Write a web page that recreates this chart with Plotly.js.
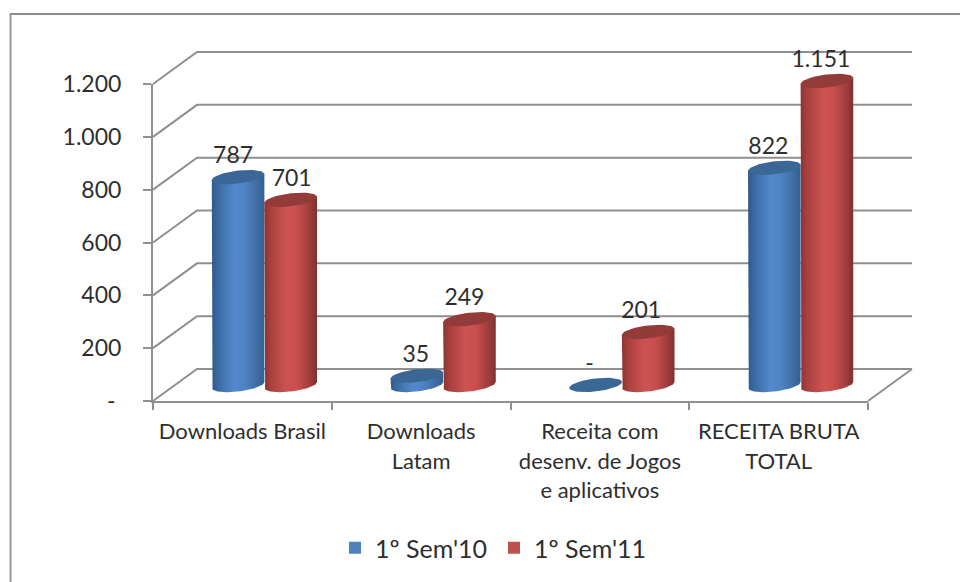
<!DOCTYPE html>
<html><head><meta charset="utf-8">
<script src="https://cdn.plot.ly/plotly-3.0.1.min.js"></script>
<style>html,body{margin:0;padding:0;background:#fff}#c{width:960px;height:582px}</style>
</head><body><div id="c"></div>
<script>
const categories = ["Downloads Brasil","Downloads<br>Latam","Receita com<br>desenv. de Jogos<br>e aplicativos","RECEITA BRUTA<br>TOTAL"];
const seriesNames = ["1º Sem'10","1º Sem'11"];
const sem10 = [787,35,0,822];
const sem11 = [701,249,201,1151];
const yTicks = [0,200,400,600,800,1000,1200];
const yTickLabels = ["-\u00a0","200","400","600","800","1.000","1.200"];

// geometry, in pixels of the page
const W=960,H=582,L=153,R=868,T=84,B=401;
const pxX=4/(R-L), pxY=1200/(B-T);
const depthX=44*pxX, depthY=32*pxY;
const halfW=26.3, ellB=6.5, ellTilt=3;
const grid='#8f8f8f', ink='#2e2e2e';
const looks=[
 {flat:'#4f81bd',cap:'#3b6796',scale:[[0,'#2f5a8a'],[0.12,'#3a6aa3'],[0.42,'#5289cc'],[0.62,'#4f84c4'],[0.88,'#3d6ba3'],[1,'#32608f']]},
 {flat:'#c0504d',cap:'#933b39',scale:[[0,'#8a3533'],[0.12,'#a8403e'],[0.42,'#cc5352'],[0.62,'#c94f4e'],[0.88,'#9c3c3a'],[1,'#7d312f']]}
];
const labelNudge=[[-5,1],[-1,-5],[-6,-7],[-6,-6]];

function fmtGroup(v){return v===0?'-':String(v).replace(/\B(?=(\d{3})+$)/g,'.');}

// every mark lives on the hidden page-wide axes x2/y2, which share the front plane's scale
const on={xaxis:'x2',yaxis:'y2',showlegend:false,hoverinfo:'skip'};
const traces=[];
// keeps the visible front-plane axes x/y on the page
traces.push({type:'scatter',mode:'markers',x:[0],y:[0],marker:{opacity:0,size:1},showlegend:false,hoverinfo:'skip'});
const gx=[],gy=[];
yTicks.forEach(v=>{gx.push(0,depthX,4+depthX,null);gy.push(v,v+depthY,v+depthY,null);});
gx.push(4,4+depthX);gy.push(0,depthY);
traces.push(Object.assign({type:'scatter',mode:'lines',x:gx,y:gy,line:{color:grid,width:2}},on));

function centre(k,s){return k+0.5+depthX/2+(s===0?-1:1)*26.3*pxX;}
function arc(cx,vy,a0,a1,n){
  const xs=[],ys=[];
  for(let i=0;i<=n;i++){
    const t=a0+(a1-a0)*i/n;
    xs.push(cx+halfW*pxX*Math.cos(t));
    ys.push(vy+(ellTilt*Math.cos(t)-ellB*Math.sin(t))*pxY);
  }
  return [xs,ys];
}
[sem10,sem11].forEach((vals,s)=>{
  const cs=vals.map((_,k)=>centre(k,s));
  traces.push(Object.assign({type:'bar',x:cs,y:vals,base:depthY/2,width:halfW*1.3*pxX,
    marker:{color:looks[s].flat,line:{width:0}}},on,{name:seriesNames[s],showlegend:true}));
});
[0,1,2,3].forEach(k=>{
 [sem10,sem11].forEach((vals,s)=>{
  const cx=centre(k,s), v=vals[k], lo=depthY/2, hi=v+depthY/2;
  if(v>0){
    const bot=arc(cx,lo,Math.PI,0,40);
    const xs=[cx-halfW*pxX].concat(bot[0],[cx+halfW*pxX]);
    const ys=[hi-ellTilt*pxY].concat(bot[1],[hi+ellTilt*pxY]);
    traces.push(Object.assign({type:'scatter',mode:'lines',x:xs,y:ys,fill:'toself',line:{width:0,color:'rgba(0,0,0,0)'},
      fillgradient:{type:'horizontal',colorscale:looks[s].scale,start:cx-halfW*pxX,stop:cx+halfW*pxX}},on));
  }
  const cap=arc(cx,hi,0,2*Math.PI,60);
  traces.push(Object.assign({type:'scatter',mode:'lines',x:cap[0],y:cap[1],fill:'toself',fillcolor:looks[s].cap,
    line:{width:0,color:'rgba(0,0,0,0)'}},on));
 });
});
[sem10,sem11].forEach((vals,s)=>{
  traces.push(Object.assign({type:'scatter',mode:'text',
    x:vals.map((_,k)=>centre(k,s)+labelNudge[k][s]*pxX),
    y:vals.map(v=>v+depthY/2+20*pxY),
    text:vals.map(fmtGroup),textposition:'middle center',
    textfont:{family:'Lato',size:23,color:ink}},on));
});

const layout={
  width:W,height:H,paper_bgcolor:'#fff',plot_bgcolor:'rgba(0,0,0,0)',showlegend:true,
  margin:{l:0,r:0,t:0,b:0,pad:0},
  barmode:'overlay',
  font:{family:'Lato',color:ink},
  xaxis:{domain:[L/W,R/W],anchor:'y',range:[0,4],type:'linear',showgrid:false,zeroline:false,showline:true,linecolor:grid,linewidth:2,
    tickmode:'array',tickvals:[0.5,1.5,2.5,3.5],
    ticktext:categories.map(c=>c.split('<br>').map(l=>'<span style="font-size:22px">'+l+'</span>').join('<br>')),
    ticks:'',tickfont:{family:'Lato',size:23,color:ink},ticklabelstandoff:8,
    minor:{tickmode:'array',tickvals:[0,1,2,3,4],ticks:'outside',ticklen:7,tickwidth:2,tickcolor:grid,showgrid:false}},
  yaxis:{domain:[(H-B)/H,(H-T)/H],anchor:'x',range:[0,1200],showgrid:false,zeroline:false,showline:true,linecolor:grid,linewidth:2,
    tickmode:'array',tickvals:yTicks,ticktext:yTickLabels,ticks:'outside',ticklen:8,tickwidth:2,tickcolor:grid,
    tickfont:{family:'Lato',size:23,color:ink},ticklabelstandoff:17},
  xaxis2:{domain:[0,1],anchor:'y2',range:[-L*pxX,(W-L)*pxX],visible:false},
  yaxis2:{domain:[0,1],anchor:'x2',range:[-(H-B)*pxY,B*pxY],visible:false},
  legend:{orientation:'h',x:335/W,xanchor:'left',y:(H-548)/H,yanchor:'middle',
    font:{family:'Lato',size:25,color:ink},entrywidth:114,entrywidthmode:'pixels',bgcolor:'rgba(0,0,0,0)'},
  shapes:[
    {type:'line',xref:'paper',yref:'paper',x0:10.5/W,x1:10.5/W,y0:(H-14)/H,y1:0,line:{color:'#999',width:2}},
    {type:'line',xref:'paper',yref:'paper',x0:10/W,x1:1,y0:(H-14)/H,y1:(H-14)/H,line:{color:'#8c8c8c',width:2}}
  ]
};
Plotly.newPlot('c',traces,layout,{displayModeBar:false,staticPlot:true});
</script></body></html>
